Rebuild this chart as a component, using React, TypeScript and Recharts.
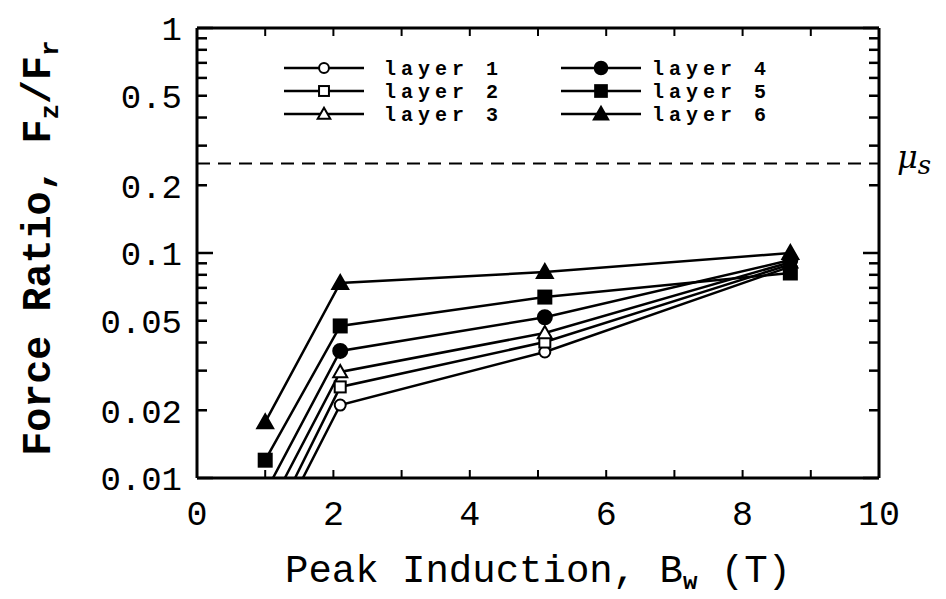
import React from 'react';
import { LineChart, Line, XAxis, YAxis, ReferenceLine, Legend } from 'recharts';

// ---- data ----
const inductionT = [1.0, 2.1, 5.1, 8.7];
const layer1 = [0.0047, 0.0211, 0.0363, 0.087];
const layer2 = [0.0054, 0.0254, 0.0402, 0.089];
const layer3 = [0.0068, 0.0296, 0.0441, 0.091];
const layer4 = [0.0086, 0.0367, 0.0518, 0.093];
const layer5 = [0.012, 0.0474, 0.0637, 0.0815];
const layer6 = [0.0177, 0.0736, 0.0823, 0.1];
const seriesNames = ['layer 1', 'layer 2', 'layer 3', 'layer 4', 'layer 5', 'layer 6'];
const seriesKeys = ['l1', 'l2', 'l3', 'l4', 'l5', 'l6'];
const seriesMarkers = ['circle-open', 'square-open', 'triangle-open', 'circle', 'square', 'triangle'];
const seriesValues = [layer1, layer2, layer3, layer4, layer5, layer6];

const yTicks = [0.01, 0.02, 0.03, 0.04, 0.05, 0.06, 0.07, 0.08, 0.09, 0.1, 0.2, 0.3, 0.4, 0.5, 0.6, 0.7, 0.8, 0.9, 1];
const yTickLabels = [0.01, 0.02, 0.05, 0.1, 0.2, 0.5, 1];
const yMajor = [0.01, 0.1, 1];
const xTicks = [0, 1, 2, 3, 4, 5, 6, 7, 8, 9, 10];
const xTickLabels = [0, 2, 4, 6, 8, 10];
const muS = 0.25;

const data = inductionT.map((x, i) => {
  const row: any = { x };
  seriesKeys.forEach((k, j) => { row[k] = seriesValues[j][i]; });
  return row;
});

const MONO = '"Liberation Mono", "DejaVu Sans Mono", monospace';
const TS = 2; // tickSize
const TM = 12; // tickMargin

function Marker({ kind, cx, cy, s = 1 }: any) {
  const filled = !kind.endsWith('open');
  const fill = filled ? '#000' : '#fff';
  if (kind.startsWith('circle')) {
    const r = (filled ? 7 : 5.5) * s;
    return <circle cx={cx} cy={cy} r={r} fill={fill} stroke="#000" strokeWidth={2} />;
  }
  if (kind.startsWith('square')) {
    const h = (filled ? 6.5 : 5.5) * s;
    return <rect x={cx - h} y={cy - h} width={2 * h} height={2 * h} fill={fill} stroke="#000" strokeWidth={2} />;
  }
  const h = (filled ? 8 : 7) * s;
  const pts = `${cx},${cy - h} ${cx + h * 1.0},${cy + h * 0.75} ${cx - h * 1.0},${cy + h * 0.75}`;
  return <polygon points={pts} fill={fill} stroke="#000" strokeWidth={2} strokeLinejoin="miter" />;
}

function LeftTick({ x, y, payload }: any) {
  const v = payload.value;
  const ax = x + TS + TM;
  const len = yMajor.includes(v) ? 16 : 10;
  const labelled = yTickLabels.includes(v);
  return (
    <g>
      <line x1={ax} y1={y} x2={ax + len} y2={y} stroke="#000" strokeWidth={2.5} />
      {labelled && (
        <text x={ax - 15} y={y} dy="0.36em" textAnchor="end" fontFamily={MONO} fontSize={34} fill="#000">
          {String(v)}
        </text>
      )}
    </g>
  );
}

function RightTick({ x, y, payload }: any) {
  const v = payload.value;
  const ax = x - TS - TM;
  const len = yMajor.includes(v) ? 16 : 10;
  return <line x1={ax} y1={y} x2={ax - len} y2={y} stroke="#000" strokeWidth={2.5} />;
}

function BottomTick({ x, y, payload }: any) {
  const v = payload.value;
  const ay = y - TS - TM;
  const labelled = xTickLabels.includes(v);
  return (
    <g>
      <line x1={x} y1={ay} x2={x} y2={ay - 8} stroke="#000" strokeWidth={2} />
      {labelled && (
        <text x={x} y={ay + 47} textAnchor="middle" fontFamily={MONO} fontSize={35} fill="#000">
          {String(v)}
        </text>
      )}
    </g>
  );
}

function TopTick({ x, y }: any) {
  const ay = y + TS + TM;
  return <line x1={x} y1={ay} x2={x} y2={ay + 8} stroke="#000" strokeWidth={2} />;
}

function XLabel({ viewBox }: any) {
  const cx = viewBox.x + viewBox.width / 2;
  const by = viewBox.y + 104;
  return (
    <text x={cx} y={by} textAnchor="middle" fontFamily={MONO} fontSize={39} fill="#000">
      <tspan>Peak Induction, B</tspan>
      <tspan fontSize={24} dy={7} fontWeight="bold">w</tspan>
      <tspan dy={-7}> (T)</tspan>
    </text>
  );
}

function YLabel({ viewBox }: any) {
  const bx = viewBox.x - 67;
  const cy = viewBox.y + viewBox.height / 2 - 5;
  return (
    <text transform={`translate(${bx}, ${cy}) rotate(-90)`} textAnchor="middle" fontFamily={MONO} fontSize={40} fontWeight="bold" fill="#000">
      <tspan>Force Ratio, F</tspan>
      <tspan fontSize={26} dy={8}>z</tspan>
      <tspan dy={-8}>/F</tspan>
      <tspan fontSize={26} dy={8}>r</tspan>
    </text>
  );
}

function MuLabel({ viewBox }: any) {
  const x = viewBox.x + viewBox.width + 18;
  const y = viewBox.y + 5;
  return (
    <text x={x} y={y} fontFamily='"DejaVu Serif", "Liberation Serif", serif' fontStyle="italic" fontSize={32} fill="#000">
      <tspan>μ</tspan>
      <tspan fontSize={26} dy={6}>s</tspan>
    </text>
  );
}

function LegendBox() {
  const rows = [18, 41, 64];
  const cols = [
    { x1: 4, x2: 84, mx: 44, tx: 104 },
    { x1: 281, x2: 361, mx: 321, tx: 372 },
  ];
  return (
    <svg width={540} height={82}>
      {seriesNames.map((name, i) => {
        const c = cols[Math.floor(i / 3)];
        const y = rows[i % 3];
        return (
          <g key={name}>
            <line x1={c.x1} y1={y} x2={c.x2} y2={y} stroke="#000" strokeWidth={2.5} />
            <Marker kind={seriesMarkers[i]} cx={c.mx} cy={y} s={0.9} />
            <text x={c.tx} y={y + 7} fontFamily={MONO} fontSize={20} letterSpacing={5} fontWeight="bold" fill="#000">
              {name}
            </text>
          </g>
        );
      })}
    </svg>
  );
}

export default function App() {
  return (
    <div style={{ position: 'fixed', left: 0, top: 0, background: '#fff' }}>
      <LineChart width={946} height={599} data={data} margin={{ top: 18, right: 57, bottom: 81, left: 117 }}>
        <XAxis
          xAxisId="b"
          dataKey="x"
          type="number"
          domain={[0, 10]}
          ticks={xTicks}
          interval={0}
          orientation="bottom"
          height={40}
          tickSize={TS}
          tickMargin={TM}
          tickLine={false}
          axisLine={{ stroke: '#000', strokeWidth: 3 }}
          tick={<BottomTick />}
          label={<XLabel />}
        />
        <XAxis
          xAxisId="t"
          dataKey="x"
          type="number"
          domain={[0, 10]}
          ticks={xTicks}
          interval={0}
          orientation="top"
          height={10}
          tickSize={TS}
          tickMargin={TM}
          tickLine={false}
          axisLine={{ stroke: '#000', strokeWidth: 3 }}
          tick={<TopTick />}
        />
        <YAxis
          yAxisId="l"
          type="number"
          scale="log"
          domain={[0.01, 1]}
          allowDataOverflow
          ticks={yTicks}
          interval={0}
          orientation="left"
          width={80}
          tickSize={TS}
          tickMargin={TM}
          tickLine={false}
          axisLine={{ stroke: '#000', strokeWidth: 3 }}
          tick={<LeftTick />}
          label={<YLabel />}
        />
        <YAxis
          yAxisId="r"
          type="number"
          scale="log"
          domain={[0.01, 1]}
          allowDataOverflow
          ticks={yTicks}
          interval={0}
          orientation="right"
          width={10}
          tickSize={TS}
          tickMargin={TM}
          tickLine={false}
          axisLine={{ stroke: '#000', strokeWidth: 3 }}
          tick={<RightTick />}
        />
        <ReferenceLine
          xAxisId="b"
          yAxisId="l"
          y={muS}
          stroke="#000"
          strokeWidth={2}
          strokeDasharray="13 8"
          label={<MuLabel />}
        />
        {seriesKeys.map((k, i) => (
          <Line
            key={k}
            xAxisId="b"
            yAxisId="l"
            dataKey={k}
            name={seriesNames[i]}
            stroke="#000"
            strokeWidth={2.5}
            isAnimationActive={false}
            dot={(p: any) => <Marker key={`${k}-${p.index}`} kind={seriesMarkers[i]} cx={p.cx} cy={p.cy} />}
            activeDot={false}
          />
        ))}
        <Legend
          layout="vertical"
          align="center"
          verticalAlign="middle"
          wrapperStyle={{ position: 'absolute', left: 280, top: 50, width: 540, height: 82 }}
          content={() => <LegendBox />}
        />
      </LineChart>
    </div>
  );
}
